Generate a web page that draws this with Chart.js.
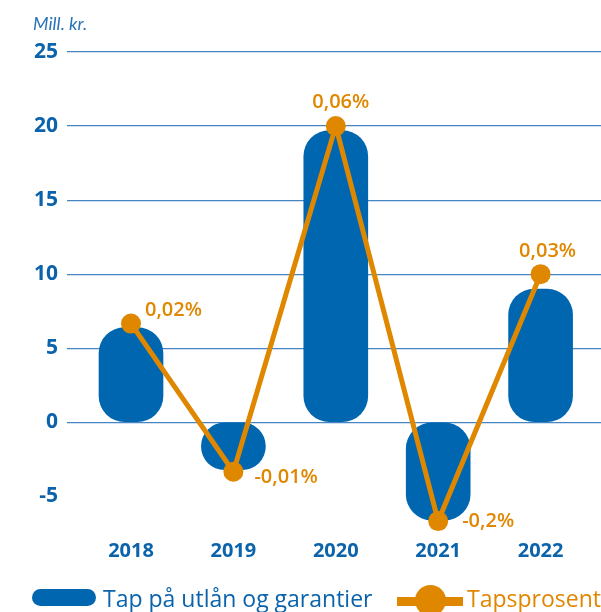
<!DOCTYPE html>
<html lang="no">
<head>
<meta charset="utf-8">
<title>Tap på utlån og garantier</title>
<script src="https://cdn.jsdelivr.net/npm/chart.js@4.4.1/dist/chart.umd.min.js"></script>
<style>
  html, body { margin: 0; padding: 0; background: #fff; overflow: hidden; }
  #wrap { position: relative; width: 601px; height: 612px; }
  #lossChart { position: absolute; left: 0; top: 0; }
  .unit {
    position: absolute; left: 33px; top: 12px;
    font: italic 18px Lato, "Open Sans", sans-serif; color: #2a73b6;
  }
  .legend-item {
    position: absolute; top: 583px; height: 30px;
    font: 500 23px "Open Sans", sans-serif; line-height: 30px; white-space: nowrap;
  }
  .swatch-bar {
    position: absolute; left: 32px; top: 589px; width: 64px; height: 17px;
    border-radius: 9px; background: #0066b0;
  }
  .swatch-line {
    position: absolute; left: 397px; top: 597px; width: 66px; height: 9px; background: #e08700;
  }
  .swatch-dot {
    position: absolute; left: 415px; top: 585px; width: 31px; height: 31px;
    border-radius: 50%; background: #e08700;
  }
</style>
</head>
<body>
<div id="wrap">
  <canvas id="lossChart" width="601" height="612"></canvas>
  <div class="unit">Mill. kr.</div>
  <div class="swatch-bar"></div>
  <div class="legend-item" style="left:103px;color:#0b63ac;">Tap på utlån og garantier</div>
  <div class="swatch-line"></div>
  <div class="swatch-dot"></div>
  <div class="legend-item" style="left:467px;color:#e08700;">Tapsprosent</div>
</div>
<script>
// år på x-aksen
const years = ['2018', '2019', '2020', '2021', '2022'];
// tap i mill. kr. (søyler)
const lossValues = [6.4, -3.2, 19.7, -6.6, 9.0];
// tapsprosent (linje)
const lossRates = [0.02, -0.01, 0.06, -0.02, 0.03];
const rateLabels = ['0,02%', '-0,01%', '0,06%', '-0,2%', '0,03%'];
// verdier på y-aksen
const yTicks = [-5, 0, 5, 10, 15, 20, 25];

const BLUE = '#0066b0';
const TEXT_BLUE = '#0b63ac';
const ORANGE = '#e08700';
const GRID = '#4585c2';

// 0,003 % tilsvarer 1 mill. kr. slik at de to aksene deler nullpunkt
const Y_MIN = -7, Y_MAX = 25, RATE_PER_UNIT = 0.003;

// plassering av prosentetikettene rundt punktene
const labelOffsets = [
    { dx: 14, dy: -13, align: 'left' },
    { dx: 21, dy: 6, align: 'left' },
    { dx: 5, dy: -24, align: 'center' },
    { dx: 24, dy: 0, align: 'left' },
    { dx: 7, dy: -23, align: 'center' }
];

const rateLabelPlugin = {
    id: 'rateLabels',
    afterDatasetsDraw(chart) {
        const meta = chart.getDatasetMeta(1);
        const ctx = chart.ctx;
        ctx.save();
        ctx.font = '600 20px "Open Sans", sans-serif';
        ctx.fillStyle = ORANGE;
        ctx.textBaseline = 'middle';
        meta.data.forEach((pt, i) => {
            const o = labelOffsets[i];
            ctx.textAlign = o.align;
            ctx.fillText(rateLabels[i], pt.x + o.dx, pt.y + o.dy);
        });
        ctx.restore();
    }
};

const ctx = document.getElementById('lossChart');
const lossChart = new Chart(ctx, {
    data: {
        datasets: [{
            type: 'bar',
            label: 'Tap på utlån og garantier',
            data: lossValues.map((v, i) => ({ x: i, y: v })),
            backgroundColor: BLUE,
            borderRadius: 26,
            borderSkipped: false,
            barThickness: 64,
            yAxisID: 'y',
            order: 2
        }, {
            type: 'line',
            label: 'Tapsprosent',
            data: lossRates.map((v, i) => ({ x: i, y: v })),
            borderColor: ORANGE,
            borderWidth: 5,
            backgroundColor: ORANGE,
            pointRadius: 10,
            pointBorderWidth: 0,
            pointBackgroundColor: ORANGE,
            tension: 0,
            clip: false,
            yAxisID: 'rate',
            order: 1
        }]
    },
    options: {
        responsive: false,
        animation: false,
        devicePixelRatio: 1,
        layout: {
            autoPadding: false,
            padding: { top: 52, left: 0, right: 0, bottom: 0 }
        },
        plugins: {
            legend: { display: false },
            tooltip: { enabled: false }
        },
        scales: {
            x: {
                type: 'linear',
                offset: false,
                min: -0.625,
                max: 4.59,
                grid: { display: false },
                border: { display: false },
                afterBuildTicks: s => { s.ticks = years.map((_, i) => ({ value: i })); },
                afterFit: s => {
                    s.height = 86;
                    s.paddingLeft = 0;
                    s.paddingRight = 0;
                },
                ticks: {
                    callback: v => years[v],
                    color: TEXT_BLUE,
                    font: { family: '"Open Sans", sans-serif', size: 20, weight: '700' },
                    padding: 5,
                    maxRotation: 0,
                    autoSkip: false
                }
            },
            y: {
                min: Y_MIN,
                max: Y_MAX,
                afterBuildTicks: s => { s.ticks = yTicks.map(v => ({ value: v })); },
                afterFit: s => {
                    s.width = 67;
                    s.paddingTop = 0;
                    s.paddingBottom = 0;
                },
                grid: {
                    color: c => (c.tick && c.tick.value < 0) ? 'rgba(0,0,0,0)' : GRID,
                    lineWidth: 1.2,
                    drawTicks: false
                },
                border: { display: false },
                ticks: {
                    color: TEXT_BLUE,
                    font: { family: '"Open Sans", sans-serif', size: 21, weight: '700' },
                    padding: 9
                }
            },
            rate: {
                display: false,
                position: 'right',
                min: Y_MIN * RATE_PER_UNIT,
                max: Y_MAX * RATE_PER_UNIT
            }
        }
    },
    plugins: [rateLabelPlugin]
});
</script>
</body>
</html>
